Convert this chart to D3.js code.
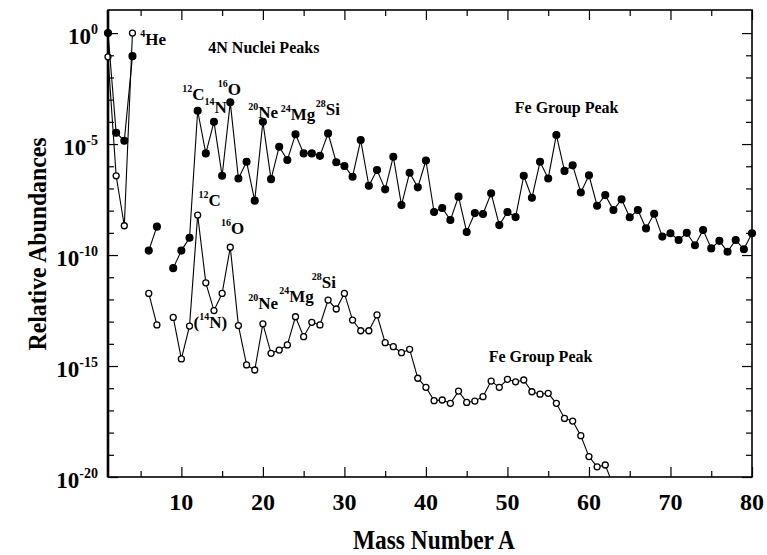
<!DOCTYPE html>
<meta charset="utf-8">
<head>
<style>
  body { margin: 0; background: #fff; }
  svg text { font-family: "Liberation Serif", "Times New Roman", serif; font-weight: bold; fill: #000; }
  .tick line { stroke: #000; stroke-width: 1.2; }
  .domain { display: none; }
</style>
<script src="https://d3js.org/d3.v7.min.js"></script>
</head>
<body>
<div id="chart"></div>
<script>
// mass numbers 1..80, values are log10 of the relative abundance (null = no stable nucleus)
var massNumbers = d3.range(1, 81);

var upperLog = [
  0, -4.49, -4.85, -1.04, null, -9.8, -8.72, null, -10.59, -9.8,
  -9.22, -3.5, -5.42, -4.0, -6.43, -3.12, -6.55, -5.8, -7.55, -4.0,
  -6.58, -5.12, -5.72, -4.56, -5.42, -5.42, -5.53, -4.52, -5.82, -5.99,
  -6.47, -4.82, -6.88, -6.17, -7.04, -5.57, -7.75, -6.29, -6.95, -5.74,
  -8.06, -7.88, -8.42, -7.37, -8.96, -8.11, -8.15, -7.22, -8.65, -8.06,
  -8.29, -6.43, -7.42, -5.8, -6.55, -4.59, -6.21, -5.96, -7.18, -6.41,
  -7.78, -7.3, -7.97, -7.49, -8.3, -7.97, -8.8, -8.14, -9.17, -9.02,
  -9.32, -9.0, -9.56, -8.87, -9.7, -9.36, -9.85, -9.32, -9.74, -9.02
];

var lowerLog = [
  -1.07, -6.43, -8.68, 0, null, -11.73, -13.15, null, -12.81, -14.68,
  -13.2, -8.2, -11.25, -12.5, -11.73, -9.65, -13.18, -14.95, -15.18, -13.1,
  -14.43, -14.28, -14.05, -12.78, -13.68, -13.03, -13.15, -12.03, -12.43, -11.73,
  -12.93, -13.41, -13.41, -12.7, -13.95, -14.13, -14.4, -14.25, -15.55, -15.96,
  -16.56, -16.53, -16.68, -16.13, -16.64, -16.58, -16.38, -15.68, -15.96, -15.6,
  -15.71, -15.63, -16.16, -16.27, -16.23, -16.68, -17.36, -17.48, -18.14, -19.08,
  -19.54, -19.46, -20.4
];

var xMajor = [10, 20, 30, 40, 50, 60, 70, 80];
var xMinor = [5, 15, 25, 35, 45, 55, 65, 75];
var yMajorExp = [0, -5, -10, -15, -20];

// labels: [superscript, text, A, log10] (position of the baseline start)
var upperLabels = [
  ["4", "He", 4.95, -0.53],
  ["12", "C", 10.1, -3.02],
  ["14", "N", 12.85, -3.6],
  ["16", "O", 14.45, -2.8],
  ["20", "Ne", 18.2, -3.83],
  ["24", "Mg", 22.2, -3.92],
  ["28", "Si", 26.5, -3.7]
];
var lowerLabels = [
  ["12", "C", 12.1, -7.8],
  ["16", "O", 14.85, -9.05],
  ["20", "Ne", 18.2, -12.45],
  ["24", "Mg", 22.0, -12.1],
  ["28", "Si", 26.0, -11.5]
];
var textNotes = [
  ["4N Nuclei Peaks", 13.3, -0.9],
  ["Fe Group Peak", 50.9, -3.61],
  ["Fe Group Peak", 47.7, -14.82]
];

var width = 767, height = 555;
var margin = { top: 10, right: 15, bottom: 78, left: 108 };

var svg = d3.select("#chart").append("svg")
  .attr("width", width)
  .attr("height", height);

var x = d3.scaleLinear()
  .domain([1, 80])
  .range([margin.left, width - margin.right]);

var y = d3.scaleLog()
  .domain([1e-20, Math.pow(10, 1.04)])
  .range([height - margin.bottom, margin.top]);

var bottomY = height - margin.bottom, topY = margin.top;

svg.append("clipPath").attr("id", "plot")
  .append("rect")
  .attr("x", margin.left - 6).attr("y", topY)
  .attr("width", x(80) - margin.left + 12).attr("height", bottomY - topY);

// ticks
function xAxis(gen, yPos, size) {
  svg.append("g")
    .attr("transform", "translate(0," + yPos + ")")
    .call(gen.tickSize(size).tickFormat(""));
}
xAxis(d3.axisBottom(x).tickValues(xMajor), bottomY, -10);
xAxis(d3.axisBottom(x).tickValues(xMinor), bottomY, -6);
xAxis(d3.axisTop(x).tickValues(xMajor), topY, -10);
xAxis(d3.axisTop(x).tickValues(xMinor), topY, -6);

var decades = d3.range(0, 21).map(function (k) { return Math.pow(10, -k); });
var majors = yMajorExp.map(function (e) { return Math.pow(10, e); });
var minors = decades.filter(function (d, i) { return i % 5 != 0; });

function yAxis(gen, xPos, size, vals) {
  svg.append("g")
    .attr("transform", "translate(" + xPos + ",0)")
    .call(gen.tickValues(vals).tickSize(size).tickFormat(""));
}
yAxis(d3.axisLeft(y), x(1), -10, majors);
yAxis(d3.axisLeft(y), x(1), -6, minors);
yAxis(d3.axisRight(y), x(80), -10, majors);
yAxis(d3.axisRight(y), x(80), -6, minors);

// frame
svg.append("rect")
  .attr("x", x(1)).attr("y", topY)
  .attr("width", x(80) - x(1)).attr("height", bottomY - topY)
  .attr("fill", "none").attr("stroke", "#000").attr("stroke-width", 1.6);
svg.append("line")
  .attr("x1", x(1)).attr("x2", x(1)).attr("y1", topY).attr("y2", bottomY)
  .attr("stroke", "#000").attr("stroke-width", 2.6);

// x tick labels
svg.append("g").selectAll("text")
  .data(xMajor)
  .enter().append("text")
  .attr("x", function (d) { return x(d); })
  .attr("y", bottomY + 33)
  .attr("text-anchor", "middle")
  .style("font-size", "24px")
  .text(function (d) { return d; });

// y tick labels
var yl = svg.append("g").selectAll("text")
  .data(yMajorExp)
  .enter().append("text")
  .attr("x", x(1) - 10)
  .attr("y", function (d) { return y(Math.pow(10, d)) + 11; })
  .attr("text-anchor", "end")
  .style("font-size", "23px");
yl.append("tspan").text("10");
yl.append("tspan")
  .attr("dy", -10)
  .style("font-size", "14px")
  .text(function (d) { return d == 0 ? "0" : d; });

// axis titles
svg.append("text")
  .attr("x", 434).attr("y", 549)
  .attr("text-anchor", "middle")
  .attr("textLength", 162).attr("lengthAdjust", "spacingAndGlyphs")
  .style("font-size", "27px")
  .text("Mass Number A");

svg.append("text")
  .attr("transform", "translate(46,244) rotate(-90)")
  .attr("text-anchor", "middle")
  .attr("textLength", 213).attr("lengthAdjust", "spacingAndGlyphs")
  .style("font-size", "26px")
  .text("Relative Abundances");

// series
function series(vals, filled) {
  var pts = vals.map(function (v, i) { return { a: massNumbers[i], v: v }; });
  var line = d3.line()
    .defined(function (d) { return d.v !== null; })
    .x(function (d) { return x(d.a); })
    .y(function (d) { return y(Math.pow(10, d.v)); });

  var g = svg.append("g").attr("clip-path", "url(#plot)");
  g.append("path")
    .datum(pts)
    .attr("d", line)
    .attr("fill", "none")
    .attr("stroke", "#000")
    .attr("stroke-width", 1.1);

  g.selectAll("circle")
    .data(pts.filter(function (d) { return d.v !== null && d.v >= -20; }))
    .enter().append("circle")
    .attr("cx", function (d) { return x(d.a); })
    .attr("cy", function (d) { return y(Math.pow(10, d.v)); })
    .attr("r", filled ? 3.4 : 3.0)
    .attr("fill", filled ? "#000" : "#fff")
    .attr("stroke", "#000")
    .attr("stroke-width", 1.3);
}
series(lowerLog, false);
series(upperLog, true);

// annotations
function isoLabels(list, size, supSize) {
  var t = svg.append("g").selectAll("text")
    .data(list)
    .enter().append("text")
    .attr("x", function (d) { return x(d[2]); })
    .attr("y", function (d) { return y(Math.pow(10, d[3])); })
    .style("font-size", size + "px");
  t.append("tspan")
    .attr("dy", -8)
    .style("font-size", supSize + "px")
    .text(function (d) { return d[0]; });
  t.append("tspan")
    .attr("dy", 8)
    .text(function (d) { return d[1]; });
}
isoLabels(upperLabels, 17, 10);
isoLabels(lowerLabels, 17, 10);

svg.append("g").selectAll("text")
  .data(textNotes)
  .enter().append("text")
  .attr("x", function (d) { return x(d[1]); })
  .attr("y", function (d) { return y(Math.pow(10, d[2])); })
  .style("font-size", "16px")
  .text(function (d) { return d[0]; });

// (14N) under the lower carbon peak
var nl = svg.append("text")
  .attr("x", x(11.5)).attr("y", y(Math.pow(10, -13.3)))
  .style("font-size", "17px");
nl.append("tspan").text("(");
nl.append("tspan").attr("dy", -8).style("font-size", "10px").text("14");
nl.append("tspan").attr("dy", 8).text("N)");
</script>
</body>
